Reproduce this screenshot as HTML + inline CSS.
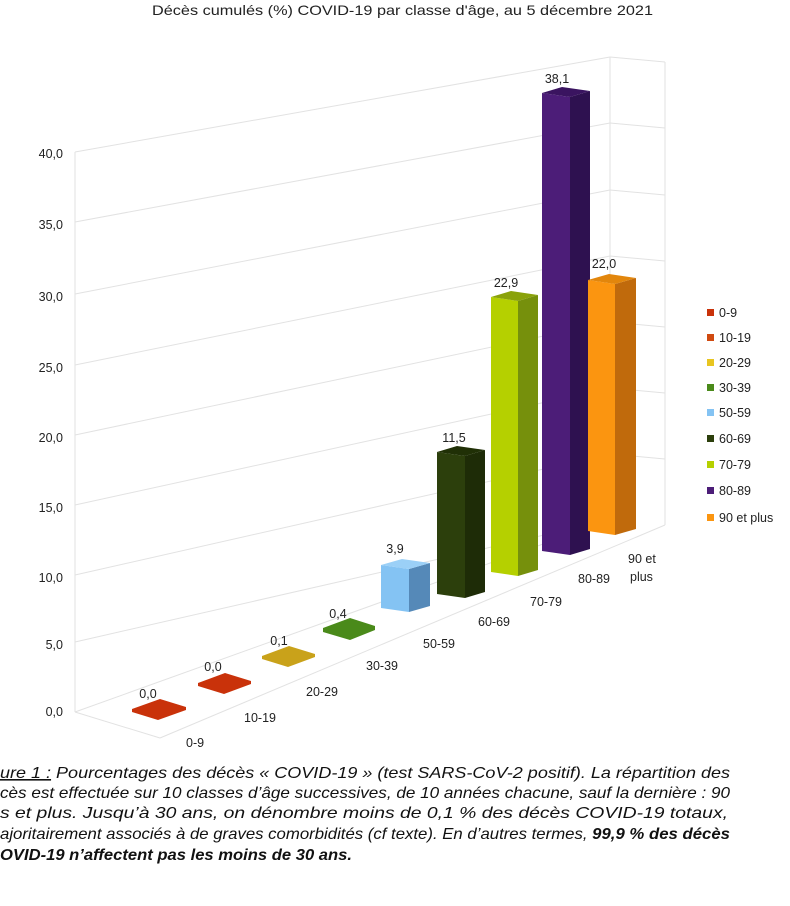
<!DOCTYPE html>
<html><head><meta charset="utf-8"><style>
html,body{margin:0;padding:0;background:#fff;}
svg{display:block;font-family:"Liberation Sans",sans-serif;}
</style></head><body>
<svg width="790" height="906" viewBox="0 0 790 906" xmlns="http://www.w3.org/2000/svg">
<rect width="790" height="906" fill="#fff"/>
<text x="152" y="15" font-size="14" textLength="501" lengthAdjust="spacingAndGlyphs" fill="#222">Décès cumulés (%) COVID-19 par classe d'âge, au 5 décembre 2021</text>
<g stroke="#e2e2e2" stroke-width="1" fill="none">
<line x1="75" y1="152" x2="75" y2="712"/>
<line x1="610" y1="57" x2="610" y2="520"/>
<line x1="665" y1="62" x2="665" y2="525"/>
<line x1="610" y1="57" x2="665" y2="62"/>
<line x1="75" y1="152" x2="610" y2="57"/>
<line x1="75" y1="222" x2="610" y2="123"/>
<line x1="75" y1="294" x2="610" y2="190"/>
<line x1="75" y1="365" x2="610" y2="256"/>
<line x1="75" y1="435" x2="610" y2="322"/>
<line x1="75" y1="505" x2="610" y2="388"/>
<line x1="75" y1="575" x2="610" y2="454"/>
<line x1="75" y1="642" x2="610" y2="520"/>
<line x1="610" y1="123" x2="665" y2="128"/>
<line x1="610" y1="190" x2="665" y2="195"/>
<line x1="610" y1="256" x2="665" y2="261"/>
<line x1="610" y1="322" x2="665" y2="327"/>
<line x1="610" y1="388" x2="665" y2="393"/>
<line x1="610" y1="454" x2="665" y2="459"/>
<line x1="75" y1="712" x2="610" y2="520"/>
<line x1="75" y1="712" x2="160" y2="738"/>
<line x1="160" y1="738" x2="665" y2="525"/>
</g>
<g font-size="12.5" fill="#222" text-anchor="end">
<text x="63" y="158">40,0</text><text x="63" y="229">35,0</text><text x="63" y="301">30,0</text>
<text x="63" y="372">25,0</text><text x="63" y="442">20,0</text><text x="63" y="512">15,0</text>
<text x="63" y="582">10,0</text><text x="63" y="649">5,0</text><text x="63" y="716">0,0</text>
</g>
<g font-size="12.5" fill="#222">
<text x="186" y="747">0-9</text><text x="244" y="722">10-19</text><text x="306" y="696">20-29</text>
<text x="366" y="670">30-39</text><text x="423" y="648">50-59</text><text x="478" y="626">60-69</text>
<text x="530" y="606">70-79</text><text x="578" y="583">80-89</text>
<text x="628" y="563">90 et</text><text x="630" y="581">plus</text>
</g>
<polygon points="132,709 160,699 186,707 186,710 158,720 132,712" fill="#c9320a"/>
<polygon points="198,683 225,673 251,681 251,684 224,694 198,686" fill="#c9320a"/>
<polygon points="262,656 289,646 315,654 315,657 288,667 262,659" fill="#c9a21a"/>
<polygon points="323,628 350,618 375,626 375,630 350,640 323,632" fill="#4a8a1a"/>
<g>
<polygon points="381,565 409,569 409,612 381,608" fill="#84c3f3"/>
<polygon points="409,569 430,563 430,606 409,612" fill="#5589b8"/>
<polygon points="381,565 402,559 430,563 409,569" fill="#9bd0f7"/>
<polygon points="437,452 465,456 465,598 437,594" fill="#2c3f0c"/>
<polygon points="465,456 485,450 485,592 465,598" fill="#1e2c07"/>
<polygon points="437,452 457,446 485,450 465,456" fill="#203006"/>
<polygon points="491,297 518,301 518,576 491,572" fill="#b5d000"/>
<polygon points="518,301 538,295 538,570 518,576" fill="#76900c"/>
<polygon points="491,297 511,291 538,295 518,301" fill="#8aa20a"/>
<polygon points="542,93 570,97 570,555 542,551" fill="#4c1d78"/>
<polygon points="570,97 590,91 590,549 570,555" fill="#2e1150"/>
<polygon points="542,93 562,87 590,91 570,97" fill="#3a1460"/>
<polygon points="588,280 615,284 615,535 588,531" fill="#fb9510"/>
<polygon points="615,284 636,278 636,529 615,535" fill="#c06a0c"/>
<polygon points="588,280 609,274 636,278 615,284" fill="#e2860c"/>
</g>
<g font-size="12.5" fill="#222" text-anchor="middle">
<text x="148" y="698">0,0</text><text x="213" y="671">0,0</text><text x="279" y="645">0,1</text>
<text x="338" y="618">0,4</text><text x="395" y="553">3,9</text><text x="454" y="442">11,5</text>
<text x="506" y="287">22,9</text><text x="557" y="83">38,1</text><text x="604" y="268">22,0</text>
</g>
<g font-size="12.5" fill="#222">
<rect x="707" y="309" width="7" height="7" fill="#c9320a"/><text x="719" y="317">0-9</text>
<rect x="707" y="334" width="7" height="7" fill="#d04a10"/><text x="719" y="342">10-19</text>
<rect x="707" y="359" width="7" height="7" fill="#e8c520"/><text x="719" y="367">20-29</text>
<rect x="707" y="384" width="7" height="7" fill="#4a8a1a"/><text x="719" y="392">30-39</text>
<rect x="707" y="409" width="7" height="7" fill="#84c3f3"/><text x="719" y="417">50-59</text>
<rect x="707" y="435" width="7" height="7" fill="#2c3f0c"/><text x="719" y="443">60-69</text>
<rect x="707" y="461" width="7" height="7" fill="#b5d000"/><text x="719" y="469">70-79</text>
<rect x="707" y="487" width="7" height="7" fill="#4c1d78"/><text x="719" y="495">80-89</text>
<rect x="707" y="514" width="7" height="7" fill="#fb9510"/><text x="719" y="522">90 et plus</text>
</g>
<g font-size="16" font-style="italic" fill="#111">
<text x="0" y="778" textLength="730" lengthAdjust="spacingAndGlyphs"><tspan text-decoration="underline">ure 1 :</tspan> Pourcentages des décès « COVID-19 » (test SARS-CoV-2 positif). La répartition des</text>
<text x="0" y="798" textLength="730" lengthAdjust="spacingAndGlyphs">cès est effectuée sur 10 classes d’âge successives, de 10 années chacune, sauf la dernière : 90</text>
<text x="0" y="818" textLength="728" lengthAdjust="spacingAndGlyphs">s  et  plus.  Jusqu’à  30  ans,  on  dénombre  moins  de  0,1 %  des  décès  COVID-19  totaux,</text>
<text x="0" y="839" textLength="730" lengthAdjust="spacingAndGlyphs">ajoritairement associés à de graves comorbidités (cf texte). En d’autres termes, <tspan font-weight="bold">99,9 % des décès</tspan></text>
<text x="0" y="860" textLength="352" lengthAdjust="spacingAndGlyphs" font-weight="bold">OVID-19 n’affectent pas les moins de 30 ans.</text>
</g>
</svg>
</body></html>
